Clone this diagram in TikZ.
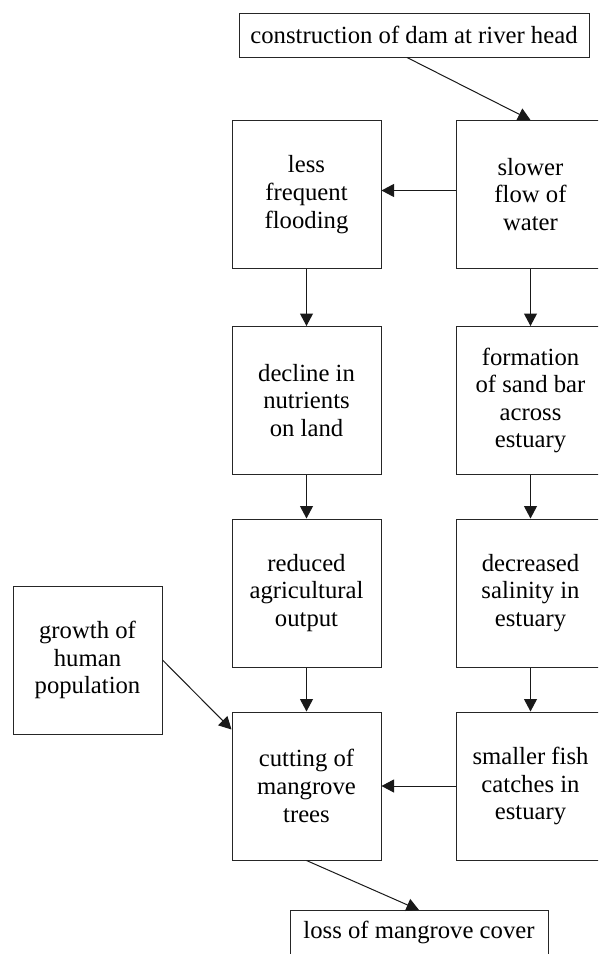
\documentclass[tikz,border=0pt]{standalone}
\usepackage{fontspec}
\setmainfont{Liberation Serif}
\usetikzlibrary{arrows.meta}
\begin{document}
\begin{tikzpicture}[x=1pt,y=-1pt,
  txt/.style={font=\fontsize{24.7}{27.6}\selectfont, align=center},
  box/.style={txt, draw=black!85, line width=1pt, minimum width=149pt, minimum height=148pt, inner sep=0pt},
  wide/.style={txt, draw=black!85, line width=1pt, minimum height=44pt, inner sep=0pt},
  arr/.style={draw=black!90, line width=1pt, -{Triangle[length=12.5pt,width=13pt]}}]
\useasboundingbox (0,0) rectangle (598,954);
\clip (0,0) rectangle (598,954);
\fill[white] (0,0) rectangle (598,954);
% top and bottom boxes
\node[wide, minimum width=350pt] (dam) at (414,35) {construction of dam at river head};
\node[wide, minimum width=258pt] (loss) at (419,932.5) {loss of mangrove cover};
% left column
\node[box] (less) at (306.5,194.5) {less\\frequent\\flooding};
\node[box] (decl) at (306.5,400.5) {decline in\\nutrients\\on land};
\node[box] (redu) at (306.5,593) {reduced\\agricultural\\output};
\node[box] (cut) at (306.5,786) {cutting of\\mangrove\\trees};
% right column
\node[box] (slow) at (530.5,194.5) {slower\\flow of\\water};
\node[box] (form) at (530.5,400.5) {formation\\of sand bar\\across\\estuary};
\node[box] (decr) at (530.5,593) {decreased\\salinity in\\estuary};
\node[box] (fish) at (530.5,786) {smaller fish\\catches in\\estuary};
% growth box
\node[box] (grow) at (87.5,660) {growth of\\human\\population};
% connectors
\draw[arr] ([xshift=-7pt]dam.south) -- (slow.north);
\draw[arr] ([yshift=4pt]slow.west) -- ([yshift=4pt]less.east);
\draw[arr] (less) -- (decl);
\draw[arr] (decl) -- (redu);
\draw[arr] (redu) -- (cut);
\draw[arr] (slow) -- (form);
\draw[arr] (form) -- (decr);
\draw[arr] (decr) -- (fish);
\draw[arr] (fish) -- (cut);
\draw[arr] (grow.east) -- ([yshift=-18pt]cut.north west);
\draw[arr] (cut.south) -- (loss.north);
\end{tikzpicture}
\end{document}
